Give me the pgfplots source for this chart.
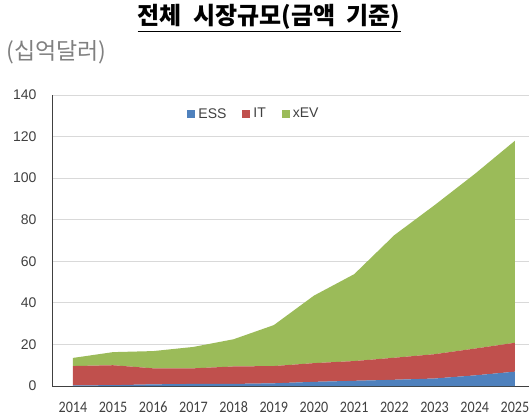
\documentclass[border=0pt]{standalone}
\usepackage{pgfplots}
\pgfplotsset{compat=1.18}
\usepackage{fontspec}
\setmainfont{Carlito}
\newfontfamily\narrow[FakeStretch=0.88]{Carlito}
\newfontfamily\kr{Noto Sans CJK KR}
\newfontfamily\arial{Liberation Sans}
\definecolor{essc}{HTML}{4F81BD}
\definecolor{itc}{HTML}{C0504D}
\definecolor{evc}{HTML}{9BBB59}
\definecolor{gridc}{HTML}{D9D9D9}
\definecolor{txt}{HTML}{404040}
\begin{document}
\begin{tikzpicture}[x=1pt,y=1pt]
\useasboundingbox (0,0) rectangle (529,418);
\node[font=\kr\bfseries\fontsize{24}{24}\selectfont, text=black] at (269,400) {\underline{전체\hspace{6pt} 시장규모(금액\hspace{6pt} 기준)}};
\node[anchor=west, font=\kr\fontsize{23}{23}\selectfont, text=gray] at (3,366) {(십억달러)};
\begin{axis}[
  at={(52pt,32pt)}, anchor=south west,
  scale only axis, width=477pt, height=291pt,
  xmin=2013.48, xmax=2025.35, ymin=0, ymax=140,
  xtick={2014,2015,...,2025}, ytick={0,20,...,140},
  axis x line*=bottom, axis y line*=left,
  axis line style={draw=txt, line width=0.8pt, -},
  major tick length=0pt,
  ymajorgrids, grid style={draw=gridc, line width=0.8pt},
  /pgf/number format/assume math mode=true,
  xticklabel style={/pgf/number format/1000 sep={}, font=\narrow\fontsize{16}{16}\selectfont, text=txt,
     anchor=north, text height=10pt, text depth=0pt, inner sep=0pt, yshift=-16pt},
  yticklabel style={font=\arial\fontsize{14}{14}\selectfont, text=txt, xshift=-12pt},
  stack plots=y,
  legend columns=3,
  legend style={draw=none, fill=none, at={(0.25,0.935)}, anchor=west,
    font=\arial\fontsize{14}{14}\selectfont, text=txt,
    nodes={inner xsep=3pt, inner ysep=2pt}},
  legend image code/.code={\path (-13pt,0pt) (8pt,0pt); \fill[#1] (0pt,-4pt) rectangle (8pt,4pt);},
]
\addplot[fill=essc, draw=none] coordinates {
(2014,0.3) (2015,0.4) (2016,0.8) (2017,1.0) (2018,1.0) (2019,1.3) (2020,2.0) (2021,2.5) (2022,3.0) (2023,3.6) (2024,5.1) (2025,6.9)} \closedcycle;
\addlegendentry{ESS}
\addplot[fill=itc, draw=none] coordinates {
(2014,9.3) (2015,9.6) (2016,7.7) (2017,7.5) (2018,8.4) (2019,8.3) (2020,9.0) (2021,9.5) (2022,10.6) (2023,11.7) (2024,12.9) (2025,13.9)} \closedcycle;
\addlegendentry{IT}
\addplot[fill=evc, draw=none] coordinates {
(2014,3.9) (2015,6.3) (2016,8.3) (2017,10.3) (2018,13.1) (2019,19.7) (2020,32.5) (2021,41.8) (2022,59.0) (2023,71.7) (2024,84.0) (2025,97.2)} \closedcycle;
\addlegendentry{xEV}
\end{axis}
\end{tikzpicture}
\end{document}
